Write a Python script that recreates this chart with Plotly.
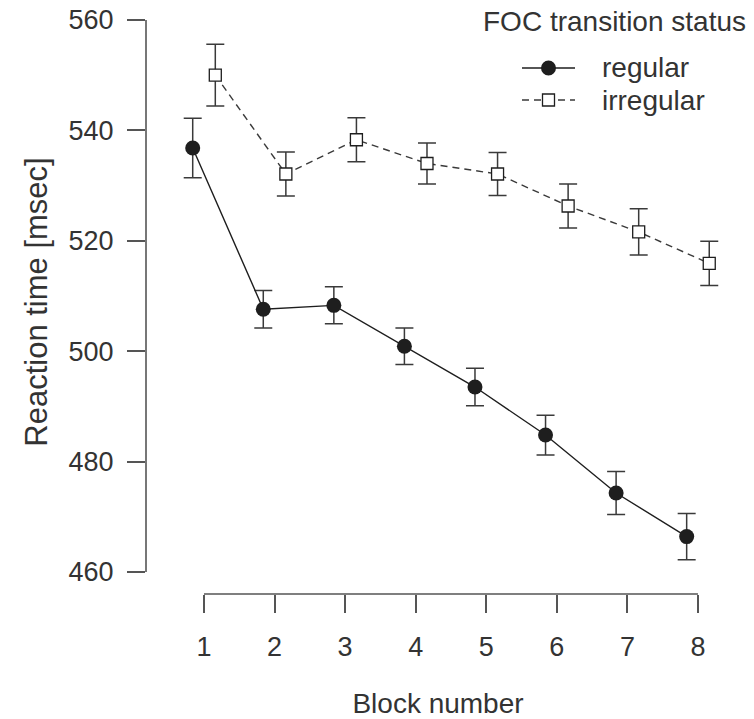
import plotly.graph_objects as go

# ---- data ----
blocks = [1, 2, 3, 4, 5, 6, 7, 8]
block_labels = ["1", "2", "3", "4", "5", "6", "7", "8"]
regular_rt = [536.8, 507.6, 508.3, 500.9, 493.5, 484.8, 474.3, 466.4]
regular_err = [5.4, 3.4, 3.35, 3.3, 3.4, 3.6, 3.9, 4.2]
irregular_rt = [550.0, 532.1, 538.3, 534.0, 532.1, 526.3, 521.6, 515.9]
irregular_err = [5.6, 4.0, 4.0, 3.7, 3.9, 4.0, 4.2, 4.0]
y_ticks = [460, 480, 500, 520, 540, 560]
series_names = ["regular", "irregular"]
legend_title = "FOC transition status"

# ---- style ----
FONT = "Liberation Sans, Arial, Helvetica, sans-serif"
TXT = "#333333"
AX = "#555555"
INK = "#1e1e1e"
DODGE = 0.16
PAGE_OFF = 8                # browser body margin
W, H = 754 - PAGE_OFF, 719 - PAGE_OFF
ML, MT, PW, PH = 146 - PAGE_OFF, 10 - PAGE_OFF, 584, 584


def px(x):   # page pixel -> paper
    return (x - PAGE_OFF - ML) / PW


def py(y):
    return 1 - (y - PAGE_OFF - MT) / PH


x_reg = [b - DODGE for b in blocks]
x_irr = [b + DODGE for b in blocks]

fig = go.Figure()
fig.add_trace(go.Scatter(
    x=x_reg, y=regular_rt, mode="lines+markers", name=series_names[0],
    line=dict(color=INK, width=1.4),
    marker=dict(symbol="circle", size=15, color=INK, line=dict(width=0)),
    error_y=dict(type="data", array=regular_err, visible=True,
                 color="#3a3a3a", thickness=1.5, width=9),
))
fig.add_trace(go.Scatter(
    x=x_irr, y=irregular_rt, mode="lines+markers", name=series_names[1],
    line=dict(color="#3a3a3a", width=1.4, dash="7px,5px"),
    marker=dict(symbol="square", size=12, color="white",
                line=dict(color=INK, width=1.3)),
    error_y=dict(type="data", array=irregular_err, visible=True,
                 color="#3a3a3a", thickness=1.5, width=9),
))

# axis lines spanning only first to last tick (R style)
fig.add_shape(type="line", xref="paper", yref="y", x0=0, x1=0,
              y0=y_ticks[0], y1=y_ticks[-1], line=dict(color=AX, width=1.6))
fig.add_shape(type="line", xref="x", yref="paper", x0=blocks[0], x1=blocks[-1],
              y0=0, y1=0, line=dict(color=AX, width=1.6))

# ---- legend (R-style, drawn manually) ----
fig.add_annotation(text=legend_title, xref="paper", yref="paper",
                   x=px(481), y=py(22), xanchor="left", yanchor="middle",
                   showarrow=False, font=dict(family=FONT, size=28, color=TXT))
leg_rows = [68, 100]
fig.add_shape(type="line", xref="paper", yref="paper", x0=px(522), x1=px(575),
              y0=py(leg_rows[0]), y1=py(leg_rows[0]), line=dict(color=INK, width=1.4))
fig.add_shape(type="circle", xref="paper", yref="paper",
              xsizemode="pixel", ysizemode="pixel",
              xanchor=px(548.5), yanchor=py(leg_rows[0]),
              x0=-7.5, x1=7.5, y0=-7.5, y1=7.5,
              fillcolor=INK, line=dict(width=0))
fig.add_shape(type="line", xref="paper", yref="paper", x0=px(522), x1=px(575),
              y0=py(leg_rows[1]), y1=py(leg_rows[1]),
              line=dict(color="#3a3a3a", width=1.4, dash="7px,5px"))
fig.add_shape(type="rect", xref="paper", yref="paper",
              xsizemode="pixel", ysizemode="pixel",
              xanchor=px(548.5), yanchor=py(leg_rows[1]),
              x0=-6, x1=6, y0=-6, y1=6,
              fillcolor="white", line=dict(color=INK, width=1.3))
for name, row in zip(series_names, leg_rows):
    fig.add_annotation(text=name, xref="paper", yref="paper",
                       x=px(600), y=py(row), xanchor="left", yanchor="middle",
                       showarrow=False, font=dict(family=FONT, size=28, color=TXT))

fig.update_layout(
    width=W, height=H,
    margin=dict(l=ML, r=W - ML - PW, t=MT, b=H - MT - PH, autoexpand=False),
    paper_bgcolor="white", plot_bgcolor="white",
    font=dict(family=FONT, size=28, color=TXT),
    showlegend=False,
    xaxis=dict(range=[0.178, 8.454], tickmode="array", tickvals=blocks,
               ticktext=block_labels, ticks="outside", ticklen=18, tickwidth=1.6,
               tickcolor=AX, showline=False, showgrid=False, zeroline=False,
               automargin=False, ticklabelstandoff=11, ticklabeloverflow="allow",
               tickfont=dict(family=FONT, size=27, color=TXT),
               title=dict(text="Block number", standoff=34,
                          font=dict(family=FONT, size=28, color=TXT))),
    yaxis=dict(range=[456.0, 561.81], tickmode="array", tickvals=y_ticks,
               ticks="outside", ticklen=18, tickwidth=1.6, tickcolor=AX,
               showline=False, showgrid=False, zeroline=False,
               automargin=False, ticklabelstandoff=8, ticklabeloverflow="allow",
               tickfont=dict(family=FONT, size=27, color=TXT),
               title=dict(text="Reaction time [msec]", standoff=11,
                          font=dict(family=FONT, size=31, color=TXT))),
)

fig.write_html("out.html")
